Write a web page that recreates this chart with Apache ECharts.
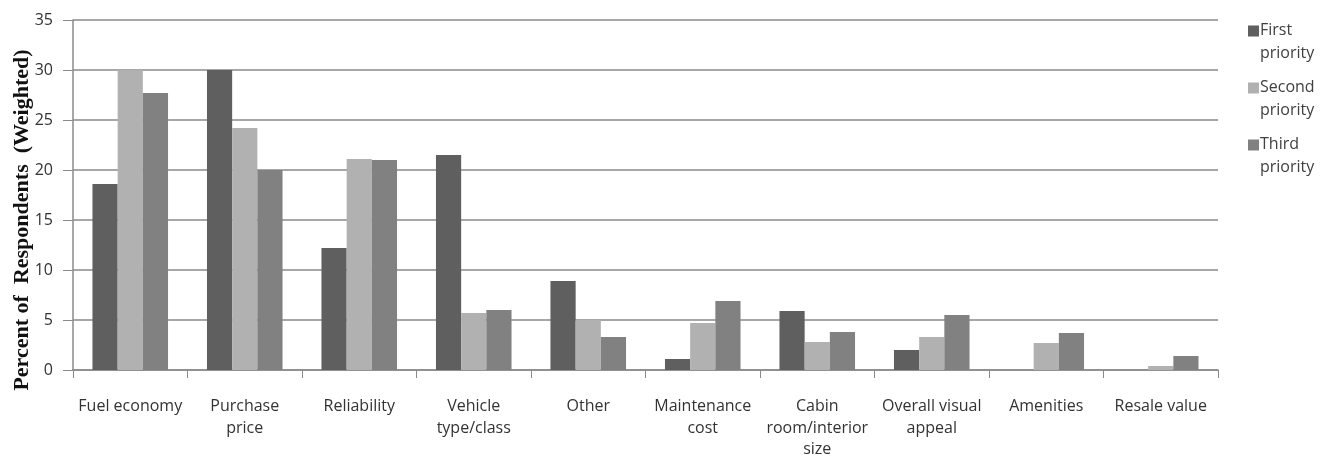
<!DOCTYPE html>
<html>
<head>
<meta charset="utf-8">
<script src="https://cdn.jsdelivr.net/npm/echarts@6/dist/echarts.min.js"></script>
<style>html,body{margin:0;padding:0;background:#fff}#c{width:1335px;height:469px}</style>
</head>
<body>
<div id="c"></div>
<script>
const categories = ['Fuel economy','Purchase price','Reliability','Vehicle type/class','Other','Maintenance cost','Cabin room/interior size','Overall visual appeal','Amenities','Resale value'];
const tickLabels = ['Fuel economy','Purchase\nprice','Reliability','Vehicle\ntype/class','Other','Maintenance\ncost','Cabin\nroom/interior\nsize','Overall visual\nappeal','Amenities','Resale value'];
const firstPriority  = [18.6, 30.0, 12.2, 21.5, 8.9, 1.1, 5.9, 2.0, 0, 0];
const secondPriority = [30.0, 24.2, 21.1, 5.7, 5.0, 4.7, 2.8, 3.3, 2.7, 0.4];
const thirdPriority  = [27.7, 20.0, 21.0, 6.0, 3.3, 6.9, 3.8, 5.5, 3.7, 1.4];
const seriesNames = ['First priority','Second priority','Third priority'];
const yTicks = [0,5,10,15,20,25,30,35];

const chart = echarts.init(document.getElementById('c'), null, {renderer:'canvas'});
const colors = ['#5f5f5f','#b1b1b1','#818181'];
const iconPath = 'path://M0,0L10,0L10,10L0,10Z M0,30L0.01,30L0,30Z';
chart.setOption({
  animation:false,
  color: colors,
  grid:{left:73, right:117, top:20, bottom:99, containLabel:false, outerBoundsMode:'none'},
  legend:{
    orient:'vertical', left:1243, top:14, itemGap:11, itemWidth:11, itemHeight:33, icon: iconPath,
    data: seriesNames,
    formatter: n => n.replace(' ', '\n'),
    textStyle:{fontFamily:'Open Sans', fontSize:16, color:'#404040', lineHeight:23, padding:[0,0,0,-4]}
  },
  xAxis:{
    type:'category', data: categories,
    axisLine:{lineStyle:{color:'#8a8a8a', width:1.5}},
    axisTick:{show:true, length:8, lineStyle:{color:'#8a8a8a'}},
    axisLabel:{formatter:(v,i)=>tickLabels[i], fontFamily:'Open Sans', fontSize:16, color:'#333', lineHeight:21.5, margin:26, interval:0}
  },
  yAxis:{
    type:'value', min:0, max:35, interval:5,
    name:'Percent of  Respondents  (Weighted)', nameLocation:'middle', nameGap:40, nameMoveOverlap:false,
    nameTextStyle:{fontFamily:'Liberation Serif', fontWeight:'bold', fontSize:22, color:'#111', padding:[0,50,0,0]},
    axisLine:{show:true, lineStyle:{color:'#8a8a8a', width:1.5}},
    axisTick:{show:true, length:10, lineStyle:{color:'#8a8a8a'}},
    axisLabel:{formatter:v=>yTicks.includes(v)?String(v):'', fontFamily:'Open Sans', fontSize:16, color:'#333', margin:20},
    splitLine:{lineStyle:{color:'#8a8a8a', width:1.5}}
  },
  series: [firstPriority, secondPriority, thirdPriority].map((d,i)=>({
    name: seriesNames[i], type:'bar', data:d, barGap:'0%', barCategoryGap:'34%',
    itemStyle:{color:colors[i]}
  }))
});
</script>
</body>
</html>
